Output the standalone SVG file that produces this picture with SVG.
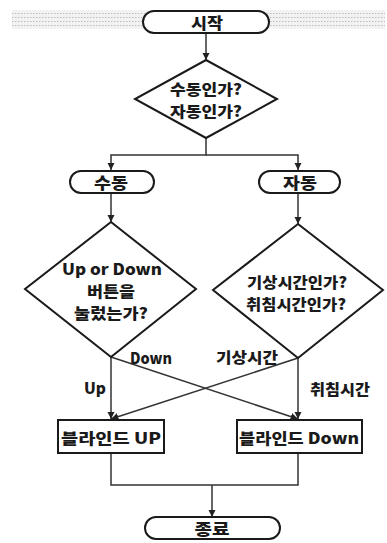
<svg xmlns="http://www.w3.org/2000/svg" width="387" height="543" viewBox="0 0 387 543">
<defs>
<marker id="arr" viewBox="0 0 8 8" refX="8" refY="4" markerWidth="5" markerHeight="5" orient="auto">
<path d="M0,0 L8,4 L0,8 z" fill="#222"/>
</marker>
<pattern id="dots" width="3" height="4" patternUnits="userSpaceOnUse">
<rect width="3" height="4" fill="#f2f2f2"/>
<rect x="0" y="1" width="1.5" height="1" fill="#bdbdbd"/>
</pattern>
</defs>
<style>
.s{fill:#fff;stroke:#1a1a1a;stroke-width:2}
.l{fill:none;stroke:#333;stroke-width:1.5}
.t{font-family:"Noto Sans CJK KR","Liberation Sans",sans-serif;font-weight:900;font-size:16px;fill:#1a1a1a;text-anchor:middle;dominant-baseline:central}
.m{font-size:15px}
</style>
<rect x="12" y="10" width="373" height="19" fill="url(#dots)"/>
<g id="connectors">
<line class="l" x1="206" y1="33" x2="206" y2="60" marker-end="url(#arr)"/>
<polyline class="l" points="206,138 206,155 111,155 111,170" marker-end="url(#arr)"/>
<polyline class="l" points="206,155 298,155 298,170" marker-end="url(#arr)"/>
<line class="l" x1="111" y1="193" x2="111" y2="222" marker-end="url(#arr)"/>
<line class="l" x1="298" y1="193" x2="298" y2="224" marker-end="url(#arr)"/>
<line class="l" x1="111" y1="357" x2="111" y2="419" marker-end="url(#arr)"/>
<line class="l" x1="111" y1="357" x2="298" y2="419" marker-end="url(#arr)"/>
<line class="l" x1="298" y1="358" x2="298" y2="419" marker-end="url(#arr)"/>
<line class="l" x1="298" y1="358" x2="111" y2="419" marker-end="url(#arr)"/>
<polyline class="l" points="111,453 111,485 298,485 298,453"/>
<line class="l" x1="212" y1="485" x2="212" y2="517" marker-end="url(#arr)"/>
<text class="t m" x="151" y="357" textLength="42" lengthAdjust="spacingAndGlyphs">Down</text>
<text class="t m" x="247" y="356" textLength="62" lengthAdjust="spacingAndGlyphs">기상시간</text>
<text class="t m" x="95" y="387" textLength="22" lengthAdjust="spacingAndGlyphs">Up</text>
<text class="t m" x="340" y="388" textLength="60" lengthAdjust="spacingAndGlyphs">취침시간</text>
</g>
<g id="start">
<rect class="s" x="143" y="11" width="126" height="22" rx="11"/>
<text class="t" x="207" y="22" textLength="32" lengthAdjust="spacingAndGlyphs">시작</text>
</g>
<g id="q1">
<polygon class="s" points="206,60 277,99 206,138 135,99"/>
<text class="t m" x="206" y="88" textLength="72" lengthAdjust="spacingAndGlyphs">수동인가?</text>
<text class="t m" x="206" y="110" textLength="72" lengthAdjust="spacingAndGlyphs">자동인가?</text>
</g>
<g id="manual">
<rect class="s" x="70" y="171" width="84" height="22" rx="11"/>
<text class="t" x="111" y="182" textLength="34" lengthAdjust="spacingAndGlyphs">수동</text>
</g>
<g id="auto">
<rect class="s" x="259" y="171" width="81" height="22" rx="11"/>
<text class="t" x="300" y="182" textLength="34" lengthAdjust="spacingAndGlyphs">자동</text>
</g>
<g id="q2">
<polygon class="s" points="111,222 196,289 111,357 25,289"/>
<text class="t m" x="112" y="268" textLength="100" lengthAdjust="spacingAndGlyphs">Up or Down</text>
<text class="t m" x="111" y="290" textLength="48" lengthAdjust="spacingAndGlyphs">버튼을</text>
<text class="t m" x="111" y="312" textLength="74" lengthAdjust="spacingAndGlyphs">눌렀는가?</text>
</g>
<g id="q3">
<polygon class="s" points="298,224 383,290 298,358 213,290"/>
<text class="t m" x="297" y="281" textLength="100" lengthAdjust="spacingAndGlyphs">기상시간인가?</text>
<text class="t m" x="296" y="303" textLength="100" lengthAdjust="spacingAndGlyphs">취침시간인가?</text>
</g>
<g id="up">
<rect class="s" x="58" y="420" width="106" height="33"/>
<text class="t m" x="111" y="437" textLength="100" lengthAdjust="spacingAndGlyphs">블라인드 UP</text>
</g>
<g id="down">
<rect class="s" x="237" y="420" width="125" height="33"/>
<text class="t m" x="299" y="437" textLength="120" lengthAdjust="spacingAndGlyphs">블라인드 Down</text>
</g>
<g id="end">
<rect class="s" x="145" y="517" width="135" height="22" rx="11"/>
<text class="t" x="212" y="528" textLength="35" lengthAdjust="spacingAndGlyphs">종료</text>
</g>
</svg>
